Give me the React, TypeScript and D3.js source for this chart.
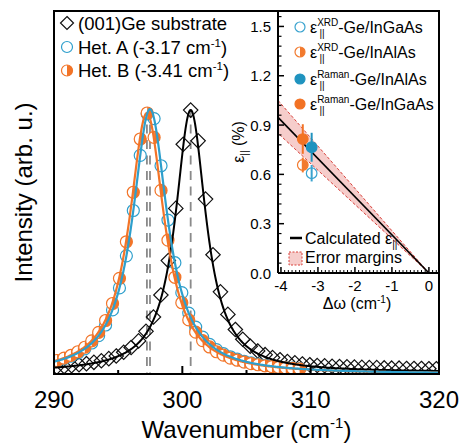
import React from "react";
import * as d3 from "d3";

const FONT = "'Liberation Sans', Arial, Helvetica, sans-serif";

// ---------- main spectra ----------
const xTicksMajor = [290, 300, 310, 320];
const xTicksMinor = [295, 305, 315];

const geWavenumber = [
  290.21, 290.79, 291.37, 291.95, 292.53, 293.11, 293.69, 294.27, 294.85, 295.43,
  296.01, 296.59, 297.17, 297.75, 298.33, 298.91, 299.49, 300.07, 300.65, 301.23,
  301.81, 302.39, 302.97, 303.55, 304.13, 304.71, 305.29, 305.87, 306.45, 307.03,
  307.61, 308.19, 308.77, 309.35, 309.93, 310.51, 311.09, 311.67, 312.25, 312.83,
  313.41, 313.99, 314.57, 315.15, 315.73, 316.31, 316.89, 317.47, 318.05, 318.63,
  319.21, 319.79,
];
const geIntensity = [
  0.026, 0.028, 0.031, 0.035, 0.039, 0.044, 0.05, 0.058, 0.068, 0.082,
  0.1, 0.125, 0.161, 0.215, 0.298, 0.428, 0.625, 0.867, 0.996, 0.88,
  0.66, 0.45, 0.31, 0.225, 0.168, 0.131, 0.105, 0.087, 0.073, 0.062,
  0.054, 0.047, 0.042, 0.038, 0.035, 0.032, 0.031, 0.029, 0.028, 0.027,
  0.026, 0.025, 0.024, 0.024, 0.023, 0.022, 0.022, 0.021, 0.021, 0.021,
  0.02, 0.02,
];
const hetWavenumber = [
  290.24, 290.78, 291.32, 291.86, 292.4, 292.94, 293.48, 294.02, 294.56, 295.1,
  295.64, 296.18, 296.72, 297.26, 297.8, 298.34, 298.88, 299.42, 299.96, 300.5,
  301.04, 301.58, 302.12, 302.66, 303.2, 303.74, 304.28, 304.82, 305.36, 305.9,
  306.44, 306.98, 307.52, 308.06, 308.6, 309.14,
];
const hetAIntensity = [
  0.049, 0.057, 0.067, 0.079, 0.095, 0.117, 0.145, 0.185, 0.242, 0.325,
  0.446, 0.617, 0.825, 0.982, 0.964, 0.786, 0.581, 0.42, 0.307, 0.23,
  0.177, 0.139, 0.112, 0.092, 0.077, 0.065, 0.056, 0.048, 0.042, 0.037,
  0.033, 0.029, 0.026, 0.024, 0.022, 0.02,
];
const hetBIntensity = [
  0.051, 0.06, 0.07, 0.084, 0.101, 0.125, 0.157, 0.202, 0.266, 0.361,
  0.499, 0.686, 0.887, 0.985, 0.893, 0.693, 0.505, 0.365, 0.269, 0.204,
  0.158, 0.126, 0.102, 0.084, 0.071, 0.06, 0.052, 0.045, 0.039, 0.035,
  0.031, 0.028, 0.025, 0.023, 0.021, 0.019,
];

// Lorentzian fit parameters: Ge substrate, Het. A, Het. B
const fitCenter = [300.65, 297.48, 297.24];
const fitHwhm = [1.45, 1.65, 1.65];
const fitAmp = [0.99, 1.0, 0.985];
const fitBase = [0.006, 0, 0];

const legendLabels = ["(001)Ge substrate", "Het. A (-3.17 cm", "Het. B (-3.41 cm"];

// ---------- inset ----------
const insetXTicks = [-4, -3, -2, -1, 0];
const insetYTicks = [0, 0.3, 0.6, 0.9, 1.2, 1.5];
const insetYTickLabels = ["0.0", "0.3", "0.6", "0.9", "1.2", "1.5"];
const calcDw = [-4.08, 0];
const calcEps = [0.947, 0];
const errUpper = [1.05, 0];
const errLower = [0.85, 0];

const pointKinds = ["open", "half", "filled", "filled"];
const pointColors = ["#3aa3cf", "#f27a2e", "#1f93bf", "#f27224"];
const pointDw = [-3.17, -3.41, -3.17, -3.41];
const pointEps = [0.607, 0.657, 0.765, 0.815];
const pointErr = [0.05, 0.045, 0.088, 0.09];
const pointSup = ["XRD", "XRD", "Raman", "Raman"];
const pointText = ["-Ge/InGaAs", "-Ge/InAlAs", "-Ge/InAlAs", "-Ge/InGaAs"];

const BLUE = "#2e9fcc";
const ORANGE = "#f27428";

function Marker({ kind, color, r, cx, cy, sw = 1.2 }: any) {
  if (kind === "diamond") {
    return (
      <path
        transform={`translate(${cx},${cy})`}
        d={`M0,${-r}L${r},0L0,${r}L${-r},0Z`}
        fill="none"
        stroke={color}
        strokeWidth={sw}
      />
    );
  }
  if (kind === "half") {
    return (
      <g transform={`translate(${cx},${cy})`}>
        <circle r={r} fill="white" stroke={color} strokeWidth={sw} />
        <path d={`M0,${-r}A${r},${r} 0 0 1 0,${r}Z`} fill={color} />
      </g>
    );
  }
  return (
    <circle
      cx={cx}
      cy={cy}
      r={r}
      fill={kind === "filled" ? color : "none"}
      stroke={color}
      strokeWidth={sw}
    />
  );
}

export default function App() {
  const L = 54, R = 439, T = 11, B = 374;
  const x = d3.scaleLinear().domain([290, 320]).range([L, R]);
  const y = d3.scaleLinear().domain([0, 1.37]).range([B, T]);

  const grid = d3.range(290, 320.0001, 0.05);
  const fitPath = (i: number) =>
    d3
      .line<number>()
      .x((w) => x(w))
      .y((w) =>
        y(
          fitBase[i] +
            (fitAmp[i] * fitHwhm[i] * fitHwhm[i]) /
              ((w - fitCenter[i]) ** 2 + fitHwhm[i] * fitHwhm[i])
        )
      )(grid) as string;

  // inset scales
  const IL = 278, IR = 440, IT = 11, IB = 273;
  const ix = d3.scaleLinear().domain([-4.08, 0.3]).range([IL, IR]);
  const iy = d3.scaleLinear().domain([0, 1.6]).range([IB, 10]);
  const insetXMinor = d3.range(-40, 3).map((v) => v / 10).filter((v) => Math.abs(v - Math.round(v)) > 1e-6);
  const insetYMinor = d3.range(0, 27).map((v) => v * 0.06).filter((v) => Math.abs(v / 0.3 - Math.round(v / 0.3)) > 1e-6 && v < 1.6);

  const band = [
    ...calcDw.map((d, i) => [ix(d), iy(errUpper[i])]),
    ...calcDw.map((d, i) => [ix(d), iy(errLower[i])]).reverse(),
  ];
  const calcLine = d3.line()(calcDw.map((d, i) => [ix(d), iy(calcEps[i])]) as any) as string;

  const dashColor = "#8a8a8a";

  return (
    <svg width={463} height={445} style={{ display: "block", position: "absolute", left: 0, top: 0 }} fontFamily={FONT}>
      <defs>
        <clipPath id="plotclip">
          <rect x={L} y={T} width={R - L} height={B - T} />
        </clipPath>
      </defs>
      <rect width={463} height={445} fill="white" />

      <g clipPath="url(#plotclip)">
        {fitCenter.map((c, i) => (
          <line
            key={"d" + i}
            x1={x(c)}
            x2={x(c)}
            y1={y(1.0)}
            y2={B}
            stroke={dashColor}
            strokeWidth={1.8}
            strokeDasharray="9 6.5"
          />
        ))}
        {geWavenumber.map((w, i) => (
          <Marker key={"g" + i} kind="diamond" color="#111" r={7.2} cx={x(w)} cy={y(geIntensity[i])} />
        ))}
        {hetWavenumber.map((w, i) => (
          <Marker key={"a" + i} kind="open" color={BLUE} r={6} cx={x(w)} cy={y(hetAIntensity[i])} />
        ))}
        {hetWavenumber.map((w, i) => (
          <Marker key={"b" + i} kind="half" color={ORANGE} r={6} cx={x(w)} cy={y(hetBIntensity[i])} />
        ))}
        <path d={fitPath(0)} fill="none" stroke="#000" strokeWidth={2} />
        <path d={fitPath(2)} fill="none" stroke={ORANGE} strokeWidth={2.2} />
        <path d={fitPath(1)} fill="none" stroke={BLUE} strokeWidth={2.2} />
      </g>

      {xTicksMajor.map((t) => (
        <line key={"M" + t} x1={x(t)} x2={x(t)} y1={B} y2={B - 8} stroke="#000" strokeWidth={2} />
      ))}
      {xTicksMinor.map((t) => (
        <line key={"m" + t} x1={x(t)} x2={x(t)} y1={B} y2={B - 4} stroke="#000" strokeWidth={2} />
      ))}
      {xTicksMajor.map((t) => (
        <text key={"l" + t} x={x(t)} y={408} fontSize={24} textAnchor="middle">
          {t}
        </text>
      ))}
      <text x={(L + R) / 2} y={438} fontSize={24} textAnchor="middle">
        Wavenumber (cm<tspan dy={-10} fontSize={15}>-1</tspan>
        <tspan dy={10} fontSize={24}>)</tspan>
      </text>
      <text transform={`translate(32,${(T + B) / 2}) rotate(-90)`} fontSize={24} textAnchor="middle">
        Intensity (arb. u.)
      </text>

      <Marker kind="diamond" color="#111" r={6.5} cx={67} cy={23} />
      <Marker kind="open" color={BLUE} r={5.5} cx={67} cy={47} />
      <Marker kind="half" color={ORANGE} r={5.5} cx={67} cy={70.5} />
      <text x={78} y={29.5} fontSize={18.5}>{legendLabels[0]}</text>
      <text x={78} y={53.5} fontSize={18.5}>
        {legendLabels[1]}
        <tspan dy={-7} fontSize={11.5}>-1</tspan>
        <tspan dy={7} fontSize={18.5}>)</tspan>
      </text>
      <text x={78} y={77} fontSize={18.5}>
        {legendLabels[2]}
        <tspan dy={-7} fontSize={11.5}>-1</tspan>
        <tspan dy={7} fontSize={18.5}>)</tspan>
      </text>

      {/* ---------- inset ---------- */}
      <rect x={IL} y={IT} width={IR - IL} height={IB - IT} fill="white" />
      <polygon
        points={band.map((p) => p.join(",")).join(" ")}
        fill="#f6cdcb"
        stroke="#d8403a"
        strokeWidth={1}
        strokeDasharray="3 2"
      />
      <path d={calcLine} stroke="#000" strokeWidth={1.6} fill="none" />
      {pointDw.map((d, i) => (
        <g key={"p" + i}>
          <Marker kind={pointKinds[i]} color={pointColors[i]} r={5.3} cx={ix(d)} cy={iy(pointEps[i])} />
          <line
            x1={ix(d)}
            x2={ix(d)}
            y1={iy(pointEps[i] - pointErr[i])}
            y2={iy(pointEps[i] + pointErr[i])}
            stroke={pointColors[i]}
            strokeWidth={2}
          />
        </g>
      ))}

      <line x1={IL} x2={IL} y1={IT} y2={IB} stroke="#000" strokeWidth={2} />
      <line x1={IL} x2={IR} y1={IB} y2={IB} stroke="#000" strokeWidth={2} />
      {insetYTicks.map((t, i) => (
        <g key={"iy" + t}>
          <line x1={IL} x2={IL + 6} y1={iy(t)} y2={iy(t)} stroke="#000" strokeWidth={1.5} />
          <text x={271} y={iy(t) + 5.5} fontSize={15} textAnchor="end">
            {insetYTickLabels[i]}
          </text>
        </g>
      ))}
      {insetYMinor.map((t) => (
        <line key={"iym" + t} x1={IL} x2={IL + 3.5} y1={iy(t)} y2={iy(t)} stroke="#000" strokeWidth={1.2} />
      ))}
      {insetXTicks.map((t) => (
        <g key={"ix" + t}>
          <line x1={ix(t)} x2={ix(t)} y1={IB} y2={IB - 6} stroke="#000" strokeWidth={1.5} />
          <text x={ix(t)} y={291} fontSize={15} textAnchor="middle">
            {t}
          </text>
        </g>
      ))}
      {insetXMinor.map((t) => (
        <line key={"ixm" + t} x1={ix(t)} x2={ix(t)} y1={IB} y2={IB - 3} stroke="#000" strokeWidth={1} />
      ))}
      <text x={357} y={309} fontSize={16} textAnchor="middle">
        Δω (cm<tspan dy={-6} fontSize={10}>-1</tspan>
        <tspan dy={6} fontSize={16}>)</tspan>
      </text>
      <text transform={`translate(244,${(IT + IB) / 2}) rotate(-90)`} fontSize={16} textAnchor="middle">
        ε<tspan dy={4} fontSize={10}>||</tspan>
        <tspan dy={-4} fontSize={16}> (%)</tspan>
      </text>

      {pointKinds.map((k, i) => {
        const cy = [27, 52, 79, 104][i];
        const base = cy + 6;
        return (
          <g key={"lg" + i}>
            <Marker kind={k} color={pointColors[i]} r={5} cx={300} cy={cy} />
            <text x={310} y={base} fontSize={16}>
              ε<tspan dy={-7} fontSize={10}>{pointSup[i]}</tspan>
              <tspan dy={7} fontSize={16}>{pointText[i]}</tspan>
            </text>
            <text x={319.5} y={base + 4} fontSize={10}>||</text>
          </g>
        );
      })}
      <line x1={290} x2={302} y1={238} y2={238} stroke="#000" strokeWidth={2.5} />
      <text x={305} y={244} fontSize={16}>
        Calculated ε<tspan dy={4} fontSize={10}>||</tspan>
      </text>
      <rect x={289} y={252} width={13} height={13} fill="#f6cdcb" stroke="#d8403a" strokeWidth={1} strokeDasharray="2 1.5" />
      <text x={305} y={262.5} fontSize={16}>Error margins</text>

      <rect x={L} y={T} width={R - L} height={B - T} fill="none" stroke="#000" strokeWidth={2} />
    </svg>
  );
}
